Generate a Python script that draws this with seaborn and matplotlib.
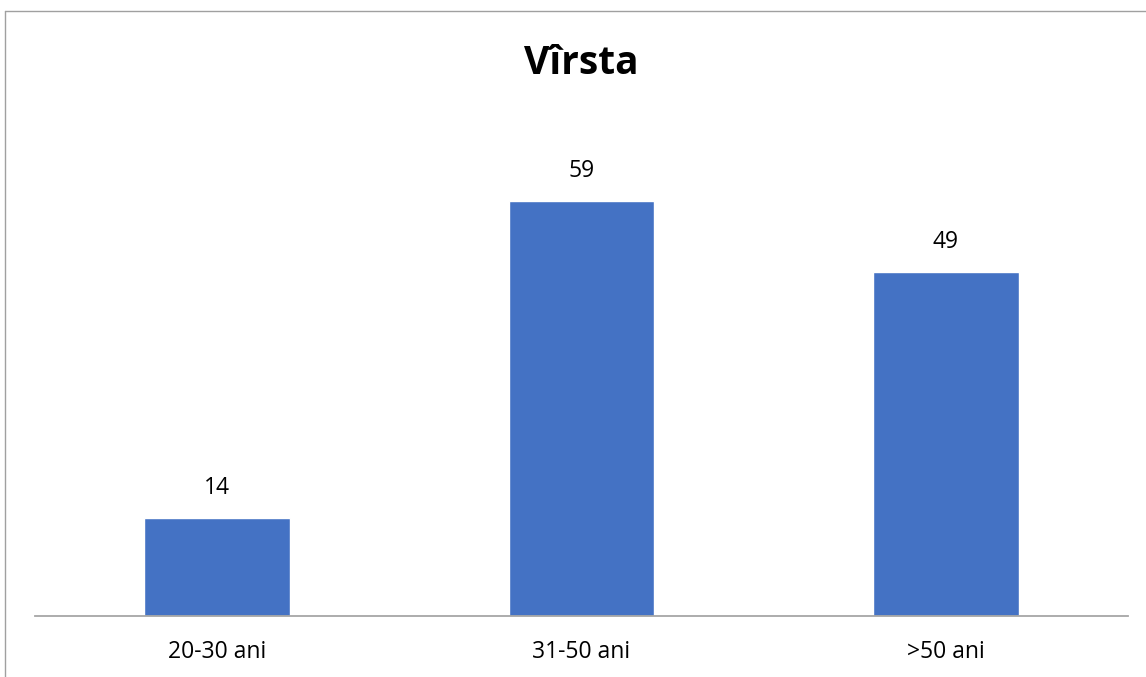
import matplotlib
matplotlib.use("Agg")
import matplotlib.pyplot as plt
from matplotlib.lines import Line2D
import seaborn as sns
import pandas as pd

categories = ["20-30 ani", "31-50 ani", ">50 ani"]
values = [14, 59, 49]
title = "Vîrsta"

sns.set_theme(style="white")
plt.rcParams['font.family'] = ['Open Sans', 'DejaVu Sans']

df = pd.DataFrame({"cat": categories, "val": values})

fig = plt.figure(figsize=(11.46, 6.77), dpi=100)
ax = fig.add_axes([35/1146, 1-616/677, (1128-35)/1146, (616-124)/677])
sns.barplot(data=df, x="cat", y="val", color="#4472C4", saturation=1, width=0.4, ax=ax)
ax.set_ylim(0, 70)
ax.set_xlim(-0.5, len(categories)-0.5)
for s in ["top", "right", "left"]:
    ax.spines[s].set_visible(False)
ax.spines["bottom"].set_color("#a6a6a6")
ax.spines["bottom"].set_linewidth(1.3)
ax.set_yticks([])
ax.set_xlabel("")
ax.set_ylabel("")
ax.tick_params(axis="x", length=0, pad=17, labelsize=16.5, labelcolor="black")
for c in ax.containers:
    ax.bar_label(c, labels=[str(v) for v in values], padding=13, fontsize=16.5, color="black")

fig.text(581/1146, 1-63/677, title, ha="center", va="center", fontsize=28, fontweight="bold", color="black")
fig.add_artist(Line2D([5/1146, 5/1146], [0, 1-11/677], transform=fig.transFigure, color="#a0a0a0", lw=1))
fig.add_artist(Line2D([5/1146, 1], [1-11/677, 1-11/677], transform=fig.transFigure, color="#a0a0a0", lw=1))

fig.savefig("out.png", dpi=100)
